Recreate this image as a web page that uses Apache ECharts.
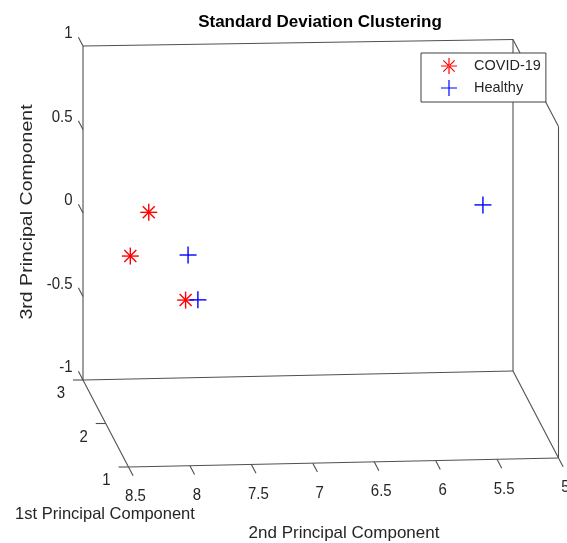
<!DOCTYPE html>
<html><head><meta charset="utf-8">
<script src="https://cdn.jsdelivr.net/npm/echarts@6/dist/echarts.min.js"></script>
<style>html,body{margin:0;padding:0;background:#fff}#c{width:567px;height:543px}</style>
</head><body><div id="c"></div>
<script>
// ---- data ----
const seriesNames = ['COVID-19', 'Healthy'];
// points as [1st PC, 2nd PC, 3rd PC]
const covidPoints = [[2, 8.15, 0.26], [2, 8.30, 0.00], [2, 7.85, -0.27]];
const healthyPoints = [[2, 7.83, 0.00], [2, 7.75, -0.27], [2, 5.43, 0.27]];
const pc1Ticks = [1, 2, 3];
const pc2Ticks = [8.5, 8, 7.5, 7, 6.5, 6, 5.5, 5];
const pc3Ticks = [-1, -0.5, 0, 0.5, 1];
const pc1Range = [1, 3];
const pc2Range = [5, 8.5];
const pc3Range = [-1, 1];
const titleText = 'Standard Deviation Clustering';
const axisNames = ['1st Principal Component', '2nd Principal Component', '3rd Principal Component'];

// ---- view / style ----
const DEPTH = [45.5, 87];          // screen shift from pc1 max (back) to pc1 min (front)
const SKEW_TOP = -6.5, SKEW_BOTTOM = -9;
const EDGE = '#505050';
const TXT = '#262626';
const FONT = 'Liberation Sans, Arial, sans-serif';
const RED = '#ff0000', BLUE = '#0000ff';

function project(params, api, p1, p2, p3) {
  const cs = params.coordSys;
  const c = api.coord([p2, p3]);
  const u = (c[0] - cs.x) / cs.width;
  const v = (cs.y + cs.height - c[1]) / cs.height;
  const d = (pc1Range[1] - p1) / (pc1Range[1] - pc1Range[0]);
  return [c[0] + DEPTH[0] * d, c[1] + u * (SKEW_BOTTOM + (SKEW_TOP - SKEW_BOTTOM) * v) + DEPTH[1] * d];
}
const dLen = Math.hypot(DEPTH[0], DEPTH[1]);
const dUnit = [DEPTH[0] / dLen, DEPTH[1] / dLen];

// box edges from axis ranges: [p2a,p3a,p1a,p2b,p3b,p1b]
const [a1, b1] = pc1Range, [a2, b2] = pc2Range, [a3, b3] = pc3Range;
const edges = [
  [b2, a3, b1, b2, b3, b1],
  [b2, b3, b1, a2, b3, b1],
  [a2, b3, b1, a2, a3, b1],
  [b2, a3, b1, a2, a3, b1],
  [b2, a3, b1, b2, a3, a1],
  [b2, a3, a1, a2, a3, a1],
  [a2, a3, b1, a2, a3, a1],
  [a2, b3, b1, a2, b3, a1],
  [a2, b3, a1, a2, a3, a1]
];
const tickData = [].concat(
  pc1Ticks.map(v => [v, 1]),
  pc2Ticks.map(v => [v, 2]),
  pc3Ticks.map(v => [v, 3])
);

function edgeItem(params, api) {
  const p = project(params, api, api.value(2), api.value(0), api.value(1));
  const q = project(params, api, api.value(5), api.value(3), api.value(4));
  return { type: 'line', shape: { x1: p[0], y1: p[1], x2: q[0], y2: q[1] },
    style: { stroke: EDGE, lineWidth: 1.1 } };
}
function tickItem(params, api) {
  const v = api.value(0), ax = api.value(1);
  let P, Q, L, align;
  if (ax === 1) {
    P = project(params, api, v, b2, a3);
    Q = [P[0] - 10, P[1]]; L = [P[0] - 22, P[1] + 14]; align = 'center';
  } else if (ax === 2) {
    P = project(params, api, a1, v, a3);
    Q = [P[0] + 10 * dUnit[0], P[1] + 10 * dUnit[1]]; L = [P[0] + 7, P[1] + 30]; align = 'center';
  } else {
    P = project(params, api, b1, b2, v);
    Q = [P[0] - 10 * dUnit[0], P[1] - 10 * dUnit[1]]; L = [P[0] - 10.5, P[1] - 12]; align = 'right';
  }
  return { type: 'group', children: [
    { type: 'line', shape: { x1: P[0], y1: P[1], x2: Q[0], y2: Q[1] }, style: { stroke: EDGE, lineWidth: 1.1 } },
    { type: 'text', x: L[0], y: L[1], scaleY: 1.08, style: { text: String(v), fill: TXT, font: '15px ' + FONT,
      align: align, verticalAlign: 'middle', textAlign: align, textVerticalAlign: 'middle' } }
  ]};
}
function markerItem(kind, color) {
  return function (params, api) {
    const P = project(params, api, api.value(2), api.value(0), api.value(1));
    const r = 8.5, s = 6;
    const segs = [[-r, 0, r, 0], [0, -r, 0, r]];
    if (kind === 'star') { segs.push([-s, -s, s, s], [-s, s, s, -s]); }
    return { type: 'group', children: segs.map(g => ({
      type: 'line', shape: { x1: P[0] + g[0], y1: P[1] + g[1], x2: P[0] + g[2], y2: P[1] + g[3] },
      style: { stroke: color, lineWidth: 1.4 } })) };
  };
}
const toSeriesData = pts => pts.map(p => [p[1], p[2], p[0]]);

const starIcon = 'path://M-8,-0.6L8,-0.6L8,0.6L-8,0.6Z M-0.6,-8L0.6,-8L0.6,8L-0.6,8Z ' +
  'M-5.24,-6.08L6.08,5.24L5.24,6.08L-6.08,-5.24Z M-5.24,6.08L6.08,-5.24L5.24,-6.08L-6.08,5.24Z';
const plusIcon = 'path://M-8,-0.6L8,-0.6L8,0.6L-8,0.6Z M-0.6,-8L0.6,-8L0.6,8L-0.6,8Z';

const chart = echarts.init(document.getElementById('c'), null, { renderer: 'canvas' });
chart.setOption({
  animation: false,
  backgroundColor: '#ffffff',
  grid: { left: 83, top: 46, width: 430, height: 334, containLabel: false, outerBoundsMode: 'none' },
  xAxis: { type: 'value', min: pc2Range[0], max: pc2Range[1], inverse: true, show: false },
  yAxis: { type: 'value', min: pc3Range[0], max: pc3Range[1], show: false },
  legend: {
    orient: 'vertical', left: 421, top: 53,
    padding: [5, 5, 6, 20], itemWidth: 40, itemHeight: 16, itemGap: 6,
    backgroundColor: '#ffffff', borderColor: '#404040', borderWidth: 1, borderRadius: 0,
    textStyle: { fontSize: 14.5, fontFamily: FONT, color: TXT },
    data: [
      { name: seriesNames[0], icon: starIcon, itemStyle: { color: RED } },
      { name: seriesNames[1], icon: plusIcon, itemStyle: { color: BLUE } }
    ],
    selectedMode: false
  },
  graphic: [
    { type: 'text', x: 320, y: 22, style: { text: titleText, font: 'bold 17px ' + FONT, fill: '#000',
      align: 'center', verticalAlign: 'middle', textAlign: 'center', textVerticalAlign: 'middle' } },
    { type: 'text', x: 105, y: 514, style: { text: axisNames[0], font: '16.5px ' + FONT, fill: TXT,
      align: 'center', verticalAlign: 'middle', textAlign: 'center', textVerticalAlign: 'middle' } },
    { type: 'text', x: 344, y: 533, style: { text: axisNames[1], font: '17px ' + FONT, fill: TXT,
      align: 'center', verticalAlign: 'middle', textAlign: 'center', textVerticalAlign: 'middle' } },
    { type: 'text', x: 27, y: 212, rotation: Math.PI / 2, scaleX: 1.15,
      style: { text: axisNames[2], font: '17px ' + FONT, fill: TXT,
      align: 'center', verticalAlign: 'middle', textAlign: 'center', textVerticalAlign: 'middle' } }
  ],
  series: [
    { type: 'custom', name: 'box', silent: true, clip: false, renderItem: edgeItem, data: edges, z: 1 },
    { type: 'custom', name: 'ticks', silent: true, clip: false, renderItem: tickItem, data: tickData, z: 1 },
    { type: 'custom', name: seriesNames[0], clip: false, itemStyle: { color: RED },
      renderItem: markerItem('star', RED), data: toSeriesData(covidPoints), z: 3 },
    { type: 'custom', name: seriesNames[1], clip: false, itemStyle: { color: BLUE },
      renderItem: markerItem('plus', BLUE), data: toSeriesData(healthyPoints), z: 3 }
  ]
});
</script></body></html>
